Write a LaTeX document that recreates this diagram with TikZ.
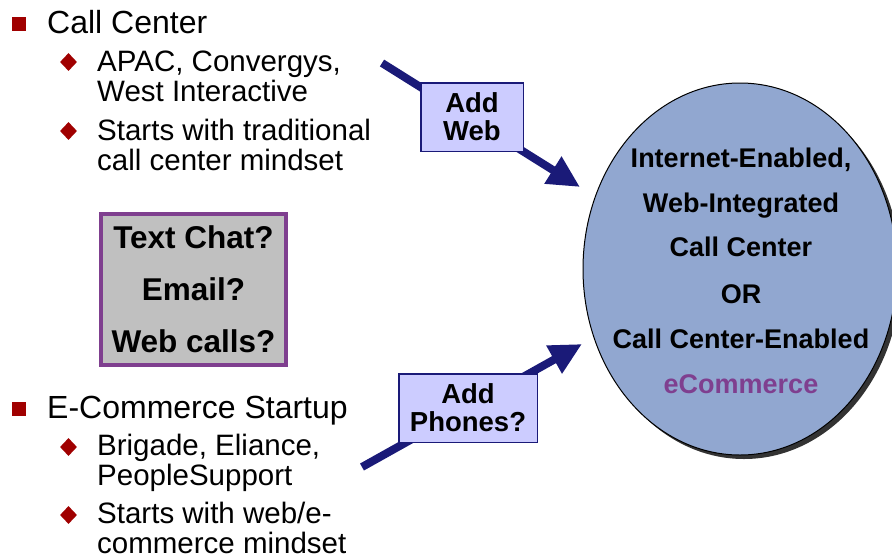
\documentclass[tikz,border=0pt]{standalone}
\usepackage{fontspec}
\setmainfont{Liberation Sans}
\usetikzlibrary{arrows.meta,shapes.geometric,shadows}
\definecolor{bulletred}{HTML}{A00000}
\definecolor{navy}{HTML}{1A1A78}
\definecolor{addfill}{HTML}{CCCCFF}
\definecolor{chatfill}{HTML}{C0C0C0}
\definecolor{purpleline}{HTML}{7F3F8F}
\definecolor{ellfill}{HTML}{91A7D0}
\begin{document}
\begin{tikzpicture}[x=1pt,y=-1pt,
  mainitem/.style={anchor=base west, inner sep=0pt, font=\fontsize{32}{36}\selectfont},
  subitem/.style={anchor=base west, inner sep=0pt, font=\fontsize{29.5}{32}\selectfont},
  sqbullet/.style={fill=bulletred, minimum size=14pt, inner sep=0pt},
  dmbullet/.style={fill=bulletred, diamond, minimum width=17pt, minimum height=18pt, inner sep=0pt},
  bigarrow/.style={draw=navy, line width=8pt, -{Triangle[length=32pt,width=30pt]}},
  addbox/.style={draw=navy, line width=1.5pt, fill=addfill, align=center, inner sep=0pt, minimum height=68.5pt, font=\bfseries\fontsize{27.5}{28}\selectfont},
  chatbox/.style={draw=purpleline, line width=4pt, fill=chatfill, align=center, inner sep=0pt, minimum width=185pt, minimum height=151pt, font=\bfseries\fontsize{31.5}{52}\selectfont},
  elltext/.style={anchor=base, inner sep=0pt, font=\bfseries\fontsize{27}{30}\selectfont}]
\useasboundingbox (0,0) rectangle (892,558);
% upper list
\node[sqbullet] (b1) at (19,24) {};
\node[mainitem] (t1) at (47,33) {Call Center};
\node[dmbullet] (d1) at (68.5,62) {};
\node[subitem] (t1a) at (97,71) {APAC, Convergys,};
\node[subitem] (t1b) at (97,101) {West Interactive};
\node[dmbullet] (d2) at (68.5,131) {};
\node[subitem] (t1c) at (97,140) {Starts with traditional};
\node[subitem] (t1d) at (97,170) {call center mindset};
% lower list
\node[sqbullet] (b2) at (19,409) {};
\node[mainitem] (t2) at (47,418) {E-Commerce Startup};
\node[dmbullet] (d3) at (68.5,447) {};
\node[subitem] (t2a) at (97,455) {Brigade, Eliance,};
\node[subitem] (t2b) at (97,485) {PeopleSupport};
\node[dmbullet] (d4) at (68.5,515) {};
\node[subitem] (t2c) at (97,523) {Starts with web/e-};
\node[subitem] (t2d) at (97,553) {commerce mindset};
% question box
\node[chatbox] (chat) at (193.5,289.5) {Text Chat?\\Email?\\Web calls?};
% ellipse
\node[ellipse, draw=black, line width=1pt, fill=ellfill, minimum width=314pt, minimum height=372pt, inner sep=0pt,
  drop shadow={shadow xshift=4pt, shadow yshift=-4pt, fill=black!80, opacity=1}] (goal) at (740,269) {};
\node[elltext] (e1) at (741,167) {Internet-Enabled,};
\node[elltext] (e2) at (741,212) {Web-Integrated};
\node[elltext] (e3) at (741,256) {Call Center};
\node[elltext] (e4) at (741,303) {OR};
\node[elltext] (e5) at (741,348) {Call Center-Enabled};
\node[elltext, text=purpleline] (e6) at (741,393) {eCommerce};
% arrows
\coordinate (w1) at (382,63);
\coordinate (w2) at (580,187);
\coordinate (p1) at (362,467);
\coordinate (p2) at (582,344);
\draw[bigarrow] (w1) -- (w2);
\draw[bigarrow] (p1) -- (p2);
\node[addbox, minimum width=102.5pt] (addweb) at (472,117) {Add\\Web};
\node[addbox, minimum width=138.5pt] (addph) at (468,408) {Add\\Phones?};
\end{tikzpicture}
\end{document}
